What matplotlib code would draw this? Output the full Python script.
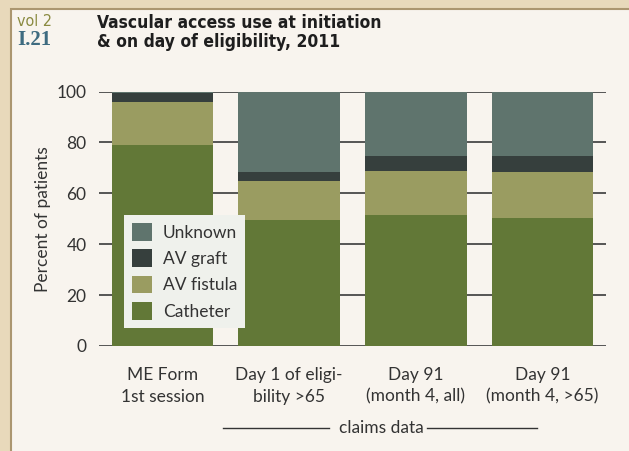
import numpy as np
import matplotlib
matplotlib.use('Agg')
import matplotlib.pyplot as plt
from matplotlib.patches import Rectangle
from matplotlib.lines import Line2D
import matplotlib.transforms as mtransforms

plt.rcParams['font.family'] = ['Lato', 'DejaVu Sans']

# data (percent of patients)
categories = ['ME Form\n1st session', 'Day 1 of eligi-\nbility >65',
              'Day 91\n(month 4, all)', 'Day 91\n(month 4, >65)']
catheter = [79.0, 49.5, 51.5, 50.3]
av_fistula = [16.9, 15.3, 17.3, 18.1]
av_graft = [3.7, 3.6, 5.9, 6.3]
unknown = [0.4, 31.6, 25.3, 25.3]
yticks = [0, 20, 40, 60, 80, 100]

series = [('Catheter', catheter, '#627837'),
          ('AV fistula', av_fistula, '#9a9c61'),
          ('AV graft', av_graft, '#363f3d'),
          ('Unknown', unknown, '#5f746d')]

W, H = 629, 451
fig = plt.figure(figsize=(W / 100, H / 100), dpi=100)
fig.patch.set_facecolor('#e8d9bb')

# inner panel
fig.patches.append(Rectangle((11 / W, -0.01), 1.0, (H - 9) / H + 0.01,
                             transform=fig.transFigure, facecolor='#f8f4ee',
                             edgecolor='#ab9670', lw=1.5, zorder=-10))

ax = fig.add_axes([99 / W, 105 / H, 507 / W, 254.5 / H])
ax.set_facecolor('none')

x = np.arange(len(categories))
bottom = np.zeros(len(categories))
handles = []
for name, vals, col in series:
    b = ax.bar(x, vals, width=0.8, bottom=bottom, color=col, label=name, zorder=2)
    handles.append(b)
    bottom += np.array(vals)

ax.set_xlim(-0.5, 3.5)
ax.set_ylim(0, 100)
ax.set_yticks(yticks)
ax.yaxis.grid(True, color='#3a3a3a', lw=1.2, zorder=1)
ax.set_axisbelow(True)
for s in ax.spines.values():
    s.set_visible(False)
ax.tick_params(axis='y', length=0, pad=9, labelsize=12.5, labelcolor='#333333')
ax.tick_params(axis='x', length=0, pad=15, labelsize=12.5, labelcolor='#333333')
ax.set_xticks(x)
ax.set_xticklabels(categories, linespacing=1.45)
ax.set_ylabel('Percent of patients', fontsize=12.5, color='#333333', labelpad=4)

leg = ax.legend(handles[::-1], [s[0] for s in series][::-1],
                loc='upper left', bbox_to_anchor=(0.049, 0.515),
                borderaxespad=0, fontsize=12.5, handlelength=1.2,
                handleheight=1.2, handletextpad=0.6, labelspacing=0.5,
                borderpad=0.45, fancybox=False, framealpha=1,
                facecolor='#eff1ec', edgecolor='none')
for t in leg.get_texts():
    t.set_color('#333333')

# "claims data" bracket under the last three bars
tr = mtransforms.blended_transform_factory(ax.transData, ax.transAxes)
ax.add_line(Line2D([0.475, 1.317], [-0.322, -0.322], transform=tr,
                   color='#333333', lw=1, clip_on=False))
ax.add_line(Line2D([2.09, 2.955], [-0.322, -0.322], transform=tr,
                   color='#333333', lw=1, clip_on=False))
ax.text(1.727, -0.322, 'claims data', transform=tr, ha='center', va='center',
        fontsize=12.5, color='#333333')

# header
cond = ['DejaVu Sans']
fig.text(17 / W, 1 - 26 / H, 'vol 2', fontsize=11.5, color='#8a8a40',
         family=cond, stretch='condensed')
fig.text(17 / W, 1 - 45 / H, 'I.21', fontsize=15, color='#3e6b80',
         fontweight='bold', family=['Liberation Serif', 'DejaVu Serif'])
fig.text(97 / W, 1 - 28 / H, 'Vascular access use at initiation',
         fontsize=12.5, fontweight='bold', color='#1e1e1e',
         family=cond, stretch='condensed')
fig.text(97 / W, 1 - 47 / H, '& on day of eligibility, 2011',
         fontsize=12.5, fontweight='bold', color='#1e1e1e',
         family=cond, stretch='condensed')

fig.savefig('out.png', dpi=100, facecolor=fig.get_facecolor())
